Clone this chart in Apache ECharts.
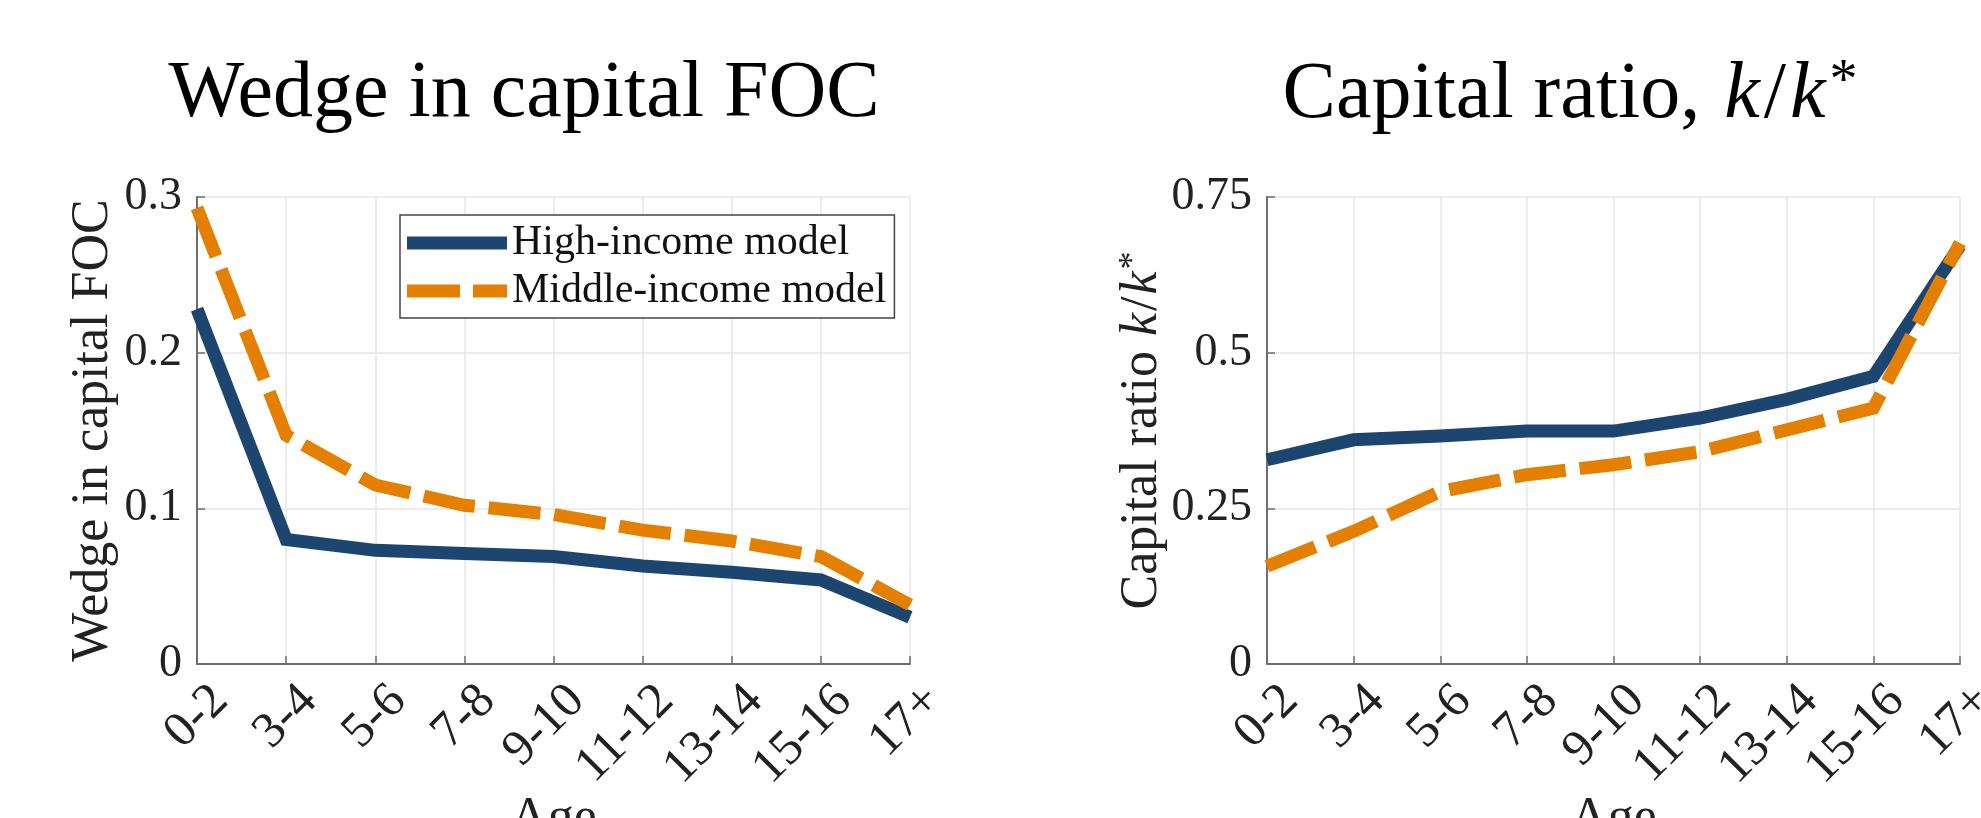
<!DOCTYPE html>
<html>
<head>
<meta charset="utf-8">
<script src="https://cdn.jsdelivr.net/npm/echarts@6/dist/echarts.min.js"></script>
<style>
  html, body { margin: 0; padding: 0; background: #fff; }
  #chart { width: 1981px; height: 818px; }
</style>
</head>
<body>
<div id="chart"></div>
<script>
// Age groups on the horizontal axis of both panels
const ages = ['0-2', '3-4', '5-6', '7-8', '9-10', '11-12', '13-14', '15-16', '17+'];

// Left panel: wedge in the capital first-order condition
const wedgeHigh   = [0.228, 0.080, 0.073, 0.071, 0.069, 0.063, 0.059, 0.054, 0.030];
const wedgeMiddle = [0.293, 0.147, 0.115, 0.102, 0.096, 0.086, 0.079, 0.069, 0.038];

// Right panel: capital ratio k/k*
const ratioHigh   = [0.328, 0.360, 0.366, 0.374, 0.374, 0.395, 0.425, 0.462, 0.672];
const ratioMiddle = [0.157, 0.213, 0.277, 0.304, 0.320, 0.341, 0.376, 0.411, 0.676];

// Tick values
const wedgeTicks = [0, 0.1, 0.2, 0.3];
const ratioTicks = [0, 0.25, 0.5, 0.75];

const seriesNames = ['High-income model', 'Middle-income model'];

const FONT = '"Liberation Serif", "Times New Roman", serif';
const BLUE = '#1c4670';
const ORANGE = '#e47f00';
const AXIS_GRAY = '#6e6e6e';
const GRID_GRAY = '#e6e6e6';

function tickLabel(v) { return String(+v.toFixed(2)); }

function xAxisFor(gridIndex) {
  return {
    type: 'category',
    gridIndex: gridIndex,
    data: ages,
    boundaryGap: false,
    name: 'Age',
    nameLocation: 'middle',
    nameGap: 129,
    nameMoveOverlap: false,
    nameTextStyle: { fontFamily: FONT, fontSize: 52, color: '#222' },
    axisLine: { show: true, lineStyle: { color: AXIS_GRAY, width: 2 } },
    axisTick: { show: true, inside: true, length: 8, alignWithLabel: true,
                lineStyle: { color: AXIS_GRAY, width: 1.5 } },
    axisLabel: {
      rotate: 45, interval: 0, margin: 6,
      verticalAlign: 'top', padding: [8, 0, 0, 0],
      fontFamily: FONT, fontSize: 50, color: '#222'
    },
    splitLine: { show: true, lineStyle: { color: GRID_GRAY, width: 1.5 } }
  };
}

function yAxisFor(gridIndex, ticks, name, gap) {
  const step = ticks[1] - ticks[0];
  return {
    type: 'value',
    gridIndex: gridIndex,
    min: ticks[0],
    max: ticks[ticks.length - 1],
    interval: step,
    name: name,
    nameLocation: 'middle',
    nameGap: gap,
    nameMoveOverlap: false,
    nameTextStyle: {
      fontFamily: FONT, fontSize: 52, color: '#222',
      rich: {
        it: { fontFamily: FONT, fontSize: 52, fontStyle: 'italic', color: '#222', padding: [0, 2, 0, 2] },
        sup: { fontFamily: FONT, fontSize: 36, color: '#222', verticalAlign: 'top', padding: [0, 0, 15, 0] }
      }
    },
    axisLine: { show: true, lineStyle: { color: AXIS_GRAY, width: 2 } },
    axisTick: { show: true, inside: true, length: 8, lineStyle: { color: AXIS_GRAY, width: 1.5 } },
    axisLabel: {
      margin: 15, fontFamily: FONT, fontSize: 46, color: '#222',
      formatter: tickLabel
    },
    splitLine: { show: true, lineStyle: { color: GRID_GRAY, width: 1.5 } }
  };
}

function lineSeries(name, data, idx, color, dashed) {
  return {
    type: 'line',
    name: name,
    data: data,
    xAxisIndex: idx,
    yAxisIndex: idx,
    symbol: 'none',
    clip: false,
    z: dashed ? 3 : 2,
    lineStyle: {
      color: color,
      width: 13,
      type: dashed ? [52, 14] : 'solid',
      cap: 'butt',
      join: 'miter'
    },
    itemStyle: { color: color },
    emphasis: { disabled: true }
  };
}

const chart = echarts.init(document.getElementById('chart'), null, { renderer: 'canvas' });

chart.setOption({
  backgroundColor: '#ffffff',
  animation: false,
  title: [
    {
      text: 'Wedge in capital FOC',
      left: 524, top: 55, padding: 0, textAlign: 'center',
      textStyle: { fontFamily: FONT, fontSize: 80, fontWeight: 'normal', color: '#000' }
    },
    {
      text: 'Capital ratio, {it|k}/{it|k}{sup|*}',
      left: 1570, top: 55, padding: 0, textAlign: 'center',
      textStyle: {
        fontFamily: FONT, fontSize: 80, fontWeight: 'normal', color: '#000',
        rich: {
          it: { fontFamily: FONT, fontSize: 80, fontStyle: 'italic', color: '#000', padding: [0, 4, 0, 4] },
          sup: { fontFamily: FONT, fontSize: 56, color: '#000', verticalAlign: 'top', padding: [0, 0, 26, 0] }
        }
      }
    }
  ],
  legend: {
    data: [
      { name: seriesNames[0], icon: 'path://M0,0H100V13H0Z' },
      { name: seriesNames[1], icon: 'path://M0,0H53V13H0Z M66,0H100V13H66Z' }
    ],
    orient: 'vertical',
    left: 400,
    top: 215,
    padding: [6, 8, 5, 7],
    itemGap: 4,
    itemWidth: 100,
    itemHeight: 13,
    backgroundColor: '#fff',
    borderColor: '#444',
    borderWidth: 1.5,
    borderRadius: 0,
    selectedMode: false,
    itemStyle: { borderWidth: 0 },
    textStyle: { fontFamily: FONT, fontSize: 42, color: '#111', lineHeight: 44, padding: [0, 0, 0, 0] }
  },
  grid: [
    { left: 197, top: 197, width: 713, height: 467, outerBoundsMode: 'none', containLabel: false },
    { left: 1267, top: 197, width: 693, height: 467, outerBoundsMode: 'none', containLabel: false }
  ],
  xAxis: [xAxisFor(0), xAxisFor(1)],
  yAxis: [
    yAxisFor(0, wedgeTicks, 'Wedge in capital FOC', 78),
    yAxisFor(1, ratioTicks, 'Capital ratio {it|k}/{it|k}{sup|*}', 99)
  ],
  series: [
    lineSeries(seriesNames[0], wedgeHigh, 0, BLUE, false),
    lineSeries(seriesNames[1], wedgeMiddle, 0, ORANGE, true),
    lineSeries(seriesNames[0], ratioHigh, 1, BLUE, false),
    lineSeries(seriesNames[1], ratioMiddle, 1, ORANGE, true)
  ]
});
</script>
</body>
</html>
